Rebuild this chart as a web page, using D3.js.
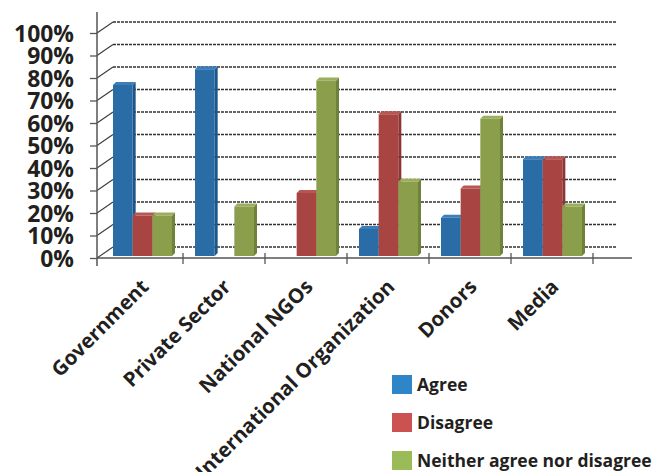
<!DOCTYPE html>
<html>
<head>
<meta charset="utf-8">
<script src="https://cdn.jsdelivr.net/npm/d3@7"></script>
<style>
  body { margin: 0; background: #fff; }
  svg { display: block; }
  text { font-family: "Open Sans", "DejaVu Sans", sans-serif; font-weight: bold; fill: #231f20; }
</style>
</head>
<body>
<svg id="chart" width="660" height="472"></svg>
<script>
// data
var categories = ["Government", "Private Sector", "National NGOs", "International Organization", "Donors", "Media"];
var seriesNames = ["Agree", "Disagree", "Neither agree nor disagree"];
var agree    = [0.76, 0.83, 0.00, 0.12, 0.17, 0.43];
var disagree = [0.18, 0.00, 0.28, 0.63, 0.30, 0.43];
var neither  = [0.18, 0.22, 0.78, 0.33, 0.61, 0.22];
var yTicks = [0, 0.1, 0.2, 0.3, 0.4, 0.5, 0.6, 0.7, 0.8, 0.9, 1.0];

var seriesValues = [agree, disagree, neither];
var frontColors = ["#2a6ca6", "#a84442", "#8a9e4c"];
var sideColors  = ["#1d5688", "#8a3634", "#6f823a"];
var topColors   = ["#3b7fba", "#b85654", "#9aae5c"];
var legendColors = ["#2e86c8", "#cc5252", "#9bbb59"];

var svg = d3.select("#chart");

var depthX = 16, depthY = 11;     // offset of back wall
var barDX = 3, barDY = 3;         // bar depth

var x0 = d3.scaleBand().domain(categories).range([101, 593]);
var x1 = d3.scaleBand().domain(seriesNames).range([12, 71]);
var yFront = d3.scaleLinear().domain([0, 1]).range([258, 33]);
var yBack = d3.scaleLinear().domain([0, 1]).range([258 - depthY, 33 - depthY]);
var yBar = d3.scaleLinear().domain([0, 1]).range([256, 31]);

var axisX = 97, axisRight = 632, backRight = 617;

// shrink/grow a font so that a text gets a given width
function fitSize(sel, base, target) {
  var w = sel.node().getComputedTextLength();
  return base * target / w;
}

// back wall grid lines
svg.append("g").selectAll("line.grid")
  .data(yTicks)
  .join("line")
    .attr("x1", axisX + depthX).attr("x2", backRight)
    .attr("y1", d => yBack(d)).attr("y2", d => yBack(d))
    .attr("stroke", "#333").attr("stroke-width", 1.5)
    .attr("stroke-dasharray", "3,1");

// diagonal side wall lines
svg.append("g").selectAll("line.diag")
  .data(yTicks)
  .join("line")
    .attr("x1", axisX).attr("x2", axisX + depthX)
    .attr("y1", d => yFront(d)).attr("y2", d => yBack(d))
    .attr("stroke", "#3a3a3a").attr("stroke-width", 1.1);

// y axis
var yAxis = svg.append("g")
  .attr("transform", `translate(${axisX},0)`)
  .call(d3.axisLeft(yFront).tickValues(yTicks).tickFormat(d3.format(".0%")).tickSize(7).tickPadding(16).tickSizeOuter(0));
yAxis.select(".domain").remove();
yAxis.selectAll(".tick line").attr("stroke", "#555").attr("stroke-width", 1.3);
var yLabels = yAxis.selectAll(".tick text")
  .attr("font-family", null).attr("font-size", null)
  .style("font-size", "22px")
  .attr("fill", "#231f20").attr("dy", "0.36em");
var s100 = fitSize(yLabels.filter(d => d === 1), 22, 60);
yLabels.style("font-size", s100 + "px");

svg.append("line")
  .attr("x1", axisX).attr("x2", axisX).attr("y1", 12).attr("y2", 266)
  .attr("stroke", "#555").attr("stroke-width", 1.5);

// bars
var rows = [];
categories.forEach(function(c, i) {
  seriesNames.forEach(function(s, j) {
    rows.push({cat: c, series: s, idx: j, value: seriesValues[j][i]});
  });
});

var bars = svg.append("g").selectAll("g.bar")
  .data(rows.filter(d => d.value > 0))
  .join("g").attr("class", "bar");

bars.append("polygon")
  .attr("points", function(d) {
    var xl = x0(d.cat) + x1(d.series), w = x1.bandwidth();
    var yt = yBar(d.value), yb = yBar(0);
    return [[xl + w, yt], [xl + w + barDX, yt - barDY], [xl + w + barDX, yb - barDY], [xl + w, yb]].join(" ");
  })
  .attr("fill", d => sideColors[d.idx]);

bars.append("polygon")
  .attr("points", function(d) {
    var xl = x0(d.cat) + x1(d.series), w = x1.bandwidth();
    var yt = yBar(d.value);
    return [[xl, yt], [xl + barDX, yt - barDY], [xl + w + barDX, yt - barDY], [xl + w, yt]].join(" ");
  })
  .attr("fill", d => topColors[d.idx]);

bars.append("rect")
  .attr("x", d => x0(d.cat) + x1(d.series))
  .attr("y", d => yBar(d.value))
  .attr("width", x1.bandwidth())
  .attr("height", d => yBar(0) - yBar(d.value))
  .attr("fill", d => frontColors[d.idx]);

// x axis
svg.append("line")
  .attr("x1", axisX).attr("x2", axisRight).attr("y1", yFront(0)).attr("y2", yFront(0))
  .attr("stroke", "#555").attr("stroke-width", 1.5);

svg.append("g").selectAll("line.xtick")
  .data(categories)
  .join("line")
    .attr("x1", d => x0(d) + x0.step()).attr("x2", d => x0(d) + x0.step())
    .attr("y1", yFront(0) - 5).attr("y2", yFront(0) + 6)
    .attr("stroke", "#555").attr("stroke-width", 1.3);

var catLabels = svg.append("g").selectAll("text.cat")
  .data(categories)
  .join("text")
    .attr("transform", d => `translate(${x0(d) + x0.bandwidth() / 2 + 8},288) rotate(-45)`)
    .attr("text-anchor", "end")
    .style("font-size", "18px")
    .text(d => d);
var catSize = fitSize(catLabels.filter(d => d === "Private Sector"), 18, 142);
catLabels.style("font-size", catSize + "px");

// legend
var legend = svg.append("g").selectAll("g.leg")
  .data(seriesNames)
  .join("g")
    .attr("transform", (d, i) => `translate(392,${375 + i * 38})`);

legend.append("rect")
  .attr("width", 20).attr("height", 19)
  .attr("fill", (d, i) => legendColors[i]);

var legText = legend.append("text")
  .attr("x", 25).attr("y", 16)
  .style("font-size", "18px")
  .text(d => d);
var legSize = fitSize(legText.filter(d => d === seriesNames[2]), 18, 235);
legText.style("font-size", legSize + "px");
</script>
</body>
</html>
